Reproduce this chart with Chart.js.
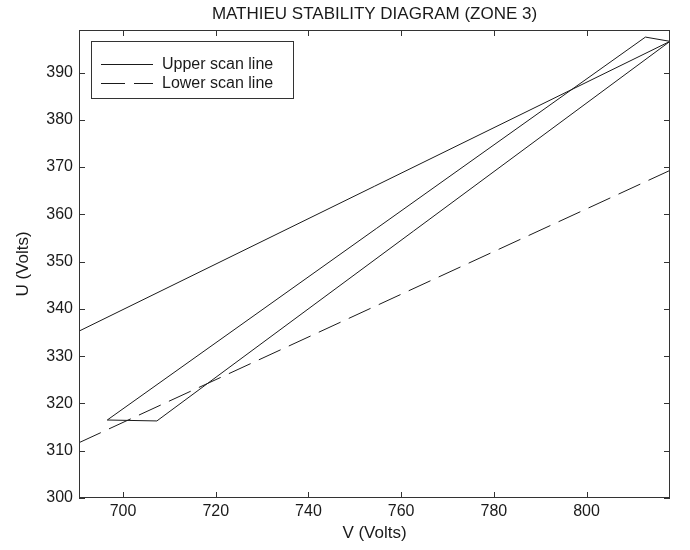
<!DOCTYPE html>
<html lang="en">
<head>
  <meta charset="UTF-8">
  <title>Mathieu Stability Diagram (Zone 3)</title>
  <script src="https://cdn.jsdelivr.net/npm/chart.js"></script>
  <style>
    body { margin: 0; background: #fff; }
    #wrap { width: 690px; height: 550px; }
  </style>
</head>
<body>
<div id="wrap"><canvas id="chart" width="690" height="550"></canvas></div>
<script>
// values
const upperV = [690.5, 818];
const upperU = [335.3, 396.6];
const lowerV = [690.5, 818];
const lowerU = [311.7, 369.3];
// zone 3 boundary, drawn as one closed outline
const zoneV = [696.6, 812.7, 818, 707.3, 696.6];
const zoneU = [316.5, 397.5, 396.6, 316.3, 316.5];

const xTicks = [700, 720, 740, 760, 780, 800];
const yTicks = [300, 310, 320, 330, 340, 350, 360, 370, 380, 390];

const FONT = "'Liberation Sans', Arial, sans-serif";
const INK = '#1a1a1a';

function pts(xs, ys) { return xs.map((x, i) => ({ x: x, y: ys[i] })); }

// box round the plot with ticks pointing inwards, like matlab
const framePlugin = {
  id: 'frame',
  afterDatasetsDraw(chart) {
    const { ctx, chartArea: a, scales } = chart;
    ctx.save();
    ctx.strokeStyle = '#333';
    ctx.lineWidth = 1;
    ctx.strokeRect(a.left + 0.5, a.top + 0.5, a.right - a.left - 1, a.bottom - a.top - 1);
    ctx.beginPath();
    const len = 6;
    scales.x.ticks.forEach(t => {
      const px = Math.round(scales.x.getPixelForValue(t.value)) + 0.5;
      ctx.moveTo(px, a.bottom); ctx.lineTo(px, a.bottom - len);
      ctx.moveTo(px, a.top); ctx.lineTo(px, a.top + len);
    });
    scales.y.ticks.forEach(t => {
      const py = Math.round(scales.y.getPixelForValue(t.value)) + 0.5;
      ctx.moveTo(a.left, py); ctx.lineTo(a.left + len, py);
      ctx.moveTo(a.right, py); ctx.lineTo(a.right - len, py);
    });
    ctx.stroke();
    ctx.restore();
  },
  afterDraw(chart) {
    // legend box inside the top-left corner
    const { ctx, chartArea: a } = chart;
    const bx = a.left + 12, by = a.top + 11, bw = 202, bh = 57;
    ctx.save();
    ctx.fillStyle = '#fff';
    ctx.fillRect(bx, by, bw, bh);
    ctx.strokeStyle = '#333';
    ctx.lineWidth = 1;
    ctx.strokeRect(bx + 0.5, by + 0.5, bw, bh);
    ctx.font = '16px ' + FONT;
    ctx.textBaseline = 'middle';
    ctx.fillStyle = INK;
    const items = chart.data.datasets.filter(d => d.label);
    items.forEach((d, i) => {
      const y = Math.round(by + 23 + i * 19) + 0.5;
      ctx.beginPath();
      ctx.setLineDash(d.borderDash || []);
      ctx.strokeStyle = d.borderColor;
      ctx.moveTo(bx + 10, y); ctx.lineTo(bx + 62, y);
      ctx.stroke();
      ctx.setLineDash([]);
      ctx.fillText(d.label, bx + 71, y);
    });
    ctx.restore();
  }
};

new Chart(document.getElementById('chart'), {
  type: 'scatter',
  data: {
    datasets: [
      { label: 'Upper scan line', data: pts(upperV, upperU), showLine: true, borderColor: INK, borderWidth: 1, pointRadius: 0 },
      { label: 'Lower scan line', data: pts(lowerV, lowerU), showLine: true, borderColor: INK, borderWidth: 1, borderDash: [24, 9], pointRadius: 0 },
      { label: '', data: pts(zoneV, zoneU), showLine: true, borderColor: INK, borderWidth: 1, pointRadius: 0 }
    ]
  },
  plugins: [framePlugin],
  options: {
    responsive: false,
    animation: false,
    layout: { padding: { left: 0, right: 20, top: 0, bottom: 0 } },
    plugins: {
      legend: { display: false },
      tooltip: { enabled: false },
      title: {
        display: true,
        fullSize: false,
        text: 'MATHIEU STABILITY DIAGRAM (ZONE 3)',
        color: INK,
        font: { family: FONT, size: 17, weight: 'normal' },
        padding: { top: 4, bottom: 5.6 }
      }
    },
    scales: {
      x: {
        type: 'linear',
        min: 690.5,
        max: 818,
        afterBuildTicks: s => { s.ticks = xTicks.map(v => ({ value: v })); },
        afterFit: s => { s.height = 52; },
        grid: { display: false, drawTicks: false },
        border: { display: false },
        ticks: { color: INK, padding: 4, font: { family: FONT, size: 16 } },
        title: { display: true, text: 'V (Volts)', color: INK, font: { family: FONT, size: 17 }, padding: { bottom: 6.8 } }
      },
      y: {
        type: 'linear',
        min: 300,
        max: 399,
        afterBuildTicks: s => { s.ticks = yTicks.map(v => ({ value: v })); },
        afterFit: s => { s.width = 79; },
        grid: { display: false, drawTicks: false },
        border: { display: false },
        ticks: { color: INK, padding: 6, font: { family: FONT, size: 16 } },
        title: { display: true, text: 'U (Volts)', color: INK, font: { family: FONT, size: 17 }, padding: { top: 13 } }
      }
    }
  }
});
</script>
</body>
</html>
